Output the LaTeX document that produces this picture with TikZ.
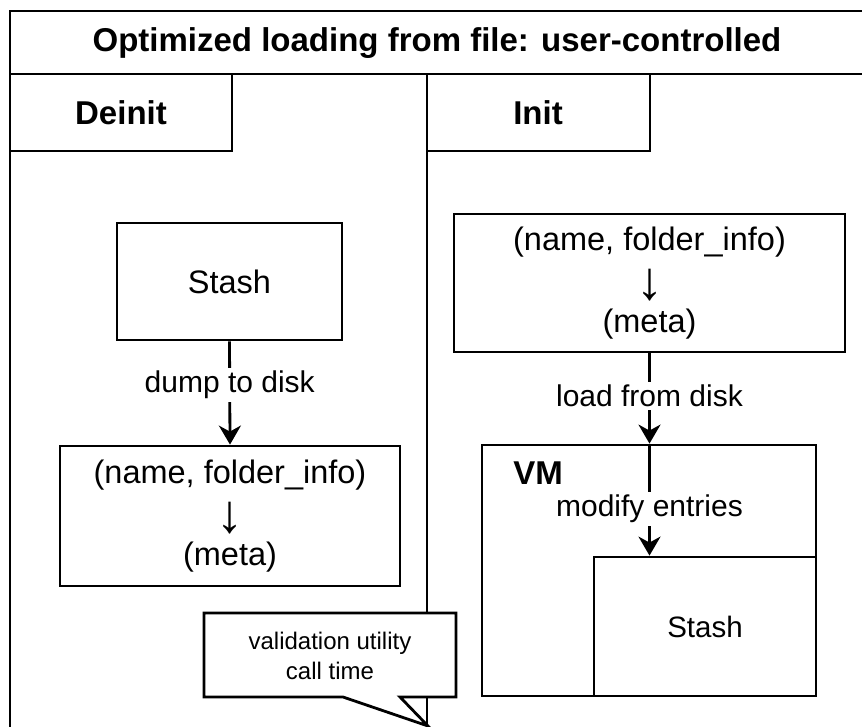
\documentclass[tikz,border=0pt]{standalone}
\usepackage{fontspec}
\setmainfont{Liberation Sans}
\usetikzlibrary{arrows.meta}
\newcommand{\tallarrow}{\smash{\raisebox{-8pt}{\fontsize{54}{41}\selectfont ↓}}}
\begin{document}
\begin{tikzpicture}[x=1pt,y=-1pt,
  line width=2.8pt,
  boxtext/.style={font=\fontsize{32.5}{41}\selectfont, align=center},
  hdr/.style={font=\bfseries\fontsize{33}{40}\selectfont},
  lbl/.style={font=\fontsize{30}{36}\selectfont, fill=white, inner sep=3pt},
  arr/.style={-{Stealth[length=19pt,width=22pt,inset=6pt]}}
]
\useasboundingbox (0,0) rectangle (862,727);
\fill[white] (0,0) rectangle (862,727);
% frame
\draw (862,11) -- (10,11) -- (10,727);
\draw (10,74) -- (862,74);
\node[hdr] (title) at (437,43) {Optimized loading from file: user-controlled};
% lane headers
\draw (10,74) rectangle (232,151);
\node[hdr] (deinit) at (121,113) {Deinit};
\draw (427,74) -- (427,726);
\draw (427,74) rectangle (650,151);
\node[hdr] (init) at (538,113) {Init};
% left lane
\node[draw, boxtext, minimum width=225pt, minimum height=117pt, inner sep=0pt] (stashL) at (229.5,281.5) {Stash};
\node[draw, boxtext, minimum width=340pt, minimum height=140pt, inner sep=0pt] (metaL) at (230,516) {(name, folder\_info)\\\tallarrow\\(meta)};
\draw[arr] (stashL.south) -- node[lbl, pos=0.42] (dump) {dump to disk} (metaL.north);
% right lane
\node[draw, boxtext, minimum width=391pt, minimum height=138pt, inner sep=0pt] (metaR) at (649.5,283) {(name, folder\_info)\\\tallarrow\\(meta)};
\node[draw, minimum width=334pt, minimum height=251pt, inner sep=0pt] (vm) at (649,570.5) {};
\node[hdr, anchor=west, inner sep=0pt] (vmlbl) at (512,473) {VM};
\node[draw, font=\fontsize{29.5}{36}\selectfont, minimum width=222pt, minimum height=139pt, inner sep=0pt] (stashR) at (705,626.5) {Stash};
\coordinate (vmtop) at (metaR.south |- vm.north);
\coordinate (stashtop) at (metaR.south |- stashR.north);
\draw[arr] (metaR.south) -- node[lbl, pos=0.47] (load) {load from disk} (vmtop);
\draw[arr] (vmtop) -- node[lbl, pos=0.58] (modify) {modify entries} (stashtop);
% callout
\draw[fill=white, line join=miter] (204,613) -- (456,613) -- (456,697) -- (400,697) -- (428,726) -- (343,697) -- (204,697) -- cycle;
\node[font=\fontsize{24}{30}\selectfont, align=center] (callout) at (330,656) {validation utility\\call time};
\end{tikzpicture}
\end{document}
